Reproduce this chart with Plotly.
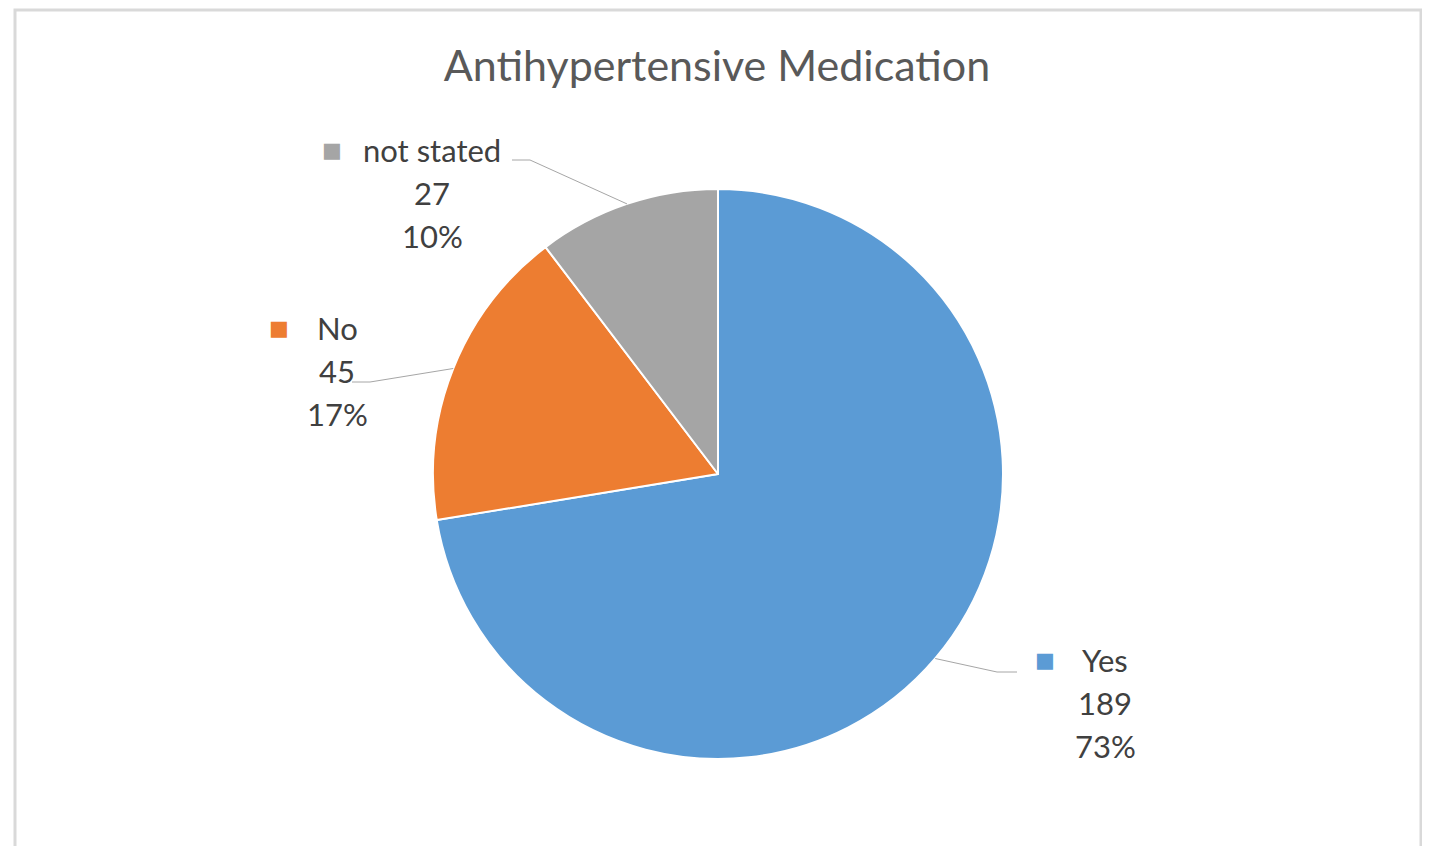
import math
import plotly.graph_objects as go

# ---- data ----
categories = ["Yes", "No", "not stated"]
counts = [189, 45, 27]
pct_labels = ["73%", "17%", "10%"]
colors = ["#5B9BD5", "#ED7D31", "#A5A5A5"]

W, H = 1430, 846
OFF = 8  # page body offset in the browser

def px(x):
    return (x - OFF) / W

def py(y):
    return 1 - (y - OFF) / H

CX, CY, R = 718, 474, 285  # pie centre / radius in screen pixels

fig = go.Figure()
fig.add_trace(go.Pie(
    labels=categories, values=counts, sort=False, direction="clockwise", rotation=0,
    marker=dict(colors=colors, line=dict(color="white", width=2)),
    textinfo="none", hoverinfo="skip", showlegend=False,
    domain=dict(x=[px(CX - R), px(CX + R)], y=[py(CY + R), py(CY - R)]),
))

# label layout: (name centre x, first line centre y, elbow x,y, end x, square x)
label_layout = {
    "Yes": dict(cx=1105, y0=660, elbow=(997, 672), end=1017, sq=1045),
    "No": dict(cx=337, y0=328, elbow=(370, 382), end=352, sq=279),
    "not stated": dict(cx=432, y0=150, elbow=(530, 160), end=512, sq=332),
}

total = sum(counts)
shapes = []
annotations = []
cum = 0
font_fam = "Lato, 'Open Sans', sans-serif"
for cat, val, pct, col in zip(categories, counts, pct_labels, colors):
    mid = (cum + val / 2) / total * 2 * math.pi
    cum += val
    sx = CX + R * math.sin(mid)
    sy = CY - R * math.cos(mid)
    L = label_layout[cat]
    ex, ey = L["elbow"]
    shapes.append(dict(type="line", xref="paper", yref="paper",
                       x0=px(sx), y0=py(sy), x1=px(ex), y1=py(ey),
                       line=dict(color="#A6A6A6", width=1)))
    shapes.append(dict(type="line", xref="paper", yref="paper",
                       x0=px(ex), y0=py(ey), x1=px(L["end"]), y1=py(ey),
                       line=dict(color="#A6A6A6", width=1)))
    for i, t in enumerate([cat, str(val), pct]):
        annotations.append(dict(text=t, x=px(L["cx"]), y=py(L["y0"] + 43 * i),
                                xref="paper", yref="paper", xanchor="center", yanchor="middle",
                                showarrow=False, font=dict(family=font_fam, size=31, color="#404040")))
    annotations.append(dict(text="■", x=px(L["sq"]), y=py(L["y0"]),
                            xref="paper", yref="paper", xanchor="center", yanchor="middle",
                            showarrow=False, font=dict(family="DejaVu Sans", size=21, color=col)))

# outer chart frame
shapes.append(dict(type="rect", xref="paper", yref="paper",
                   x0=px(15), x1=px(1421), y0=py(870), y1=py(10),
                   line=dict(color="#D9D9D9", width=3), fillcolor="rgba(0,0,0,0)"))

fig.update_layout(
    width=W, height=H,
    margin=dict(l=0, r=0, t=0, b=0),
    paper_bgcolor="white", plot_bgcolor="white",
    title=dict(text="Antihypertensive Medication", x=px(717), y=py(66),
               xanchor="center", yanchor="middle",
               font=dict(family=font_fam, size=43, color="#595959")),
    shapes=shapes, annotations=annotations,
)

fig.write_html("out.html")
